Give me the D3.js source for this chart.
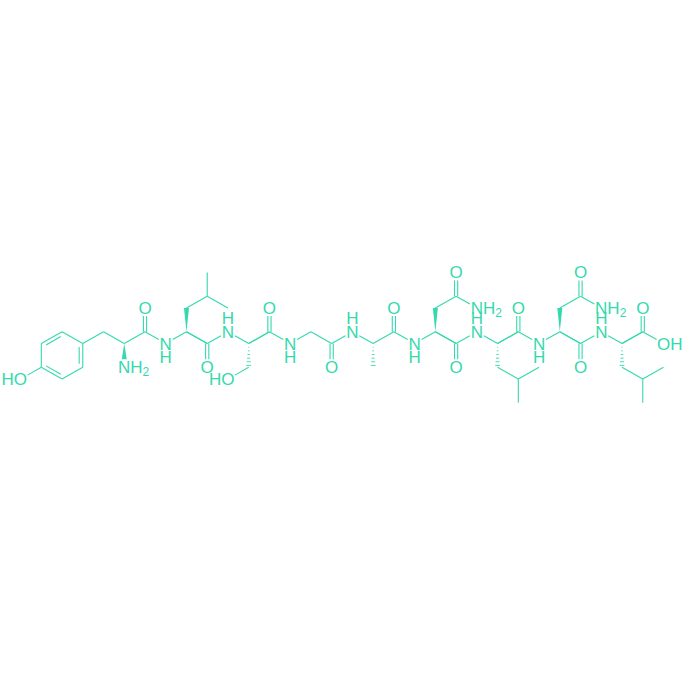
<!DOCTYPE html>
<html>
<head>
<meta charset="utf-8">
<script src="https://cdn.jsdelivr.net/npm/d3@7"></script>
<style>
html,body{margin:0;padding:0;background:#fff;}
svg{display:block;}
text{font-family:"Liberation Sans",sans-serif;font-size:17px;fill:#35d9ad;}
</style>
</head>
<body>
<svg class="svg" width="684" height="685"></svg>
<script>
// atoms on the skeletal lattice: column, row (in bond lengths), label
var atomCol=[0,1,2,2,1,0,-1,3,4,4,5,5,6,7,7,8,8,9,8,8,9,10,10,9,11,11,12,13,14,14,15,16,16,17,17,18,19,19,20,20,21,20,20,21,22,22,23,24,23,23,23,24,25,25,26,26,27,26,26,27,28,28,29,30,29,29,29,30];
var atomRow=[.5,0,.5,1.5,2,1.5,2,0,.5,1.5,0,-1,.5,0,-1,-1.5,-2.5,-1,.5,1.5,0,.5,1.5,2,0,-1,.5,0,.5,1.5,0,.5,1.5,0,-1,.5,0,-1,-1.5,-2.5,-1,.5,1.5,0,.5,1.5,2,1.5,3,0,-1,.5,0,-1,-1.5,-2.5,-1,.5,1.5,0,.5,1.5,2,1.5,3,0,-1,.5];
var atomLabel={6:"HO",9:"NH2",11:"O",12:"N",19:"O",20:"N",23:"HO",25:"O",26:"N",29:"O",30:"N",34:"O",35:"N",39:"O",40:"NH2",42:"O",43:"N",50:"O",51:"N",55:"O",56:"NH2",58:"O",59:"N",66:"O",67:"OH"};
var hBelow=[12,26,35,51];
var hAbove=[20,30,43,59];

// bonds: from atom, to atom, kind (1 single, 2 double, r ring double, w wedge, h hash)
var bondFrom=[0,1,2,3,4,5,5,2,7,8,8,10,10,12,13,13,14,15,15,13,18,18,20,21,21,22,21,24,24,26,27,28,28,30,31,31,33,33,35,36,36,37,38,38,36,41,41,43,44,44,45,46,46,44,49,49,51,52,52,53,54,54,52,57,57,59,60,60,61,62,62,60,65,65];
var bondTo=[1,2,3,4,5,0,6,7,8,9,10,11,12,13,14,18,15,16,17,18,19,20,21,22,24,23,24,25,26,27,28,29,30,31,32,33,34,35,36,37,41,38,39,40,41,42,43,44,45,49,46,47,48,49,50,51,52,53,57,54,55,56,57,58,59,60,61,65,62,63,64,65,66,67];
var bondKind=["r",1,"r",1,"r",1,1,1,1,"w",1,2,1,1,"w",1,1,1,1,1,2,1,1,"h",1,1,1,2,1,1,1,2,1,1,"h",1,2,1,1,"w",1,1,2,1,1,2,1,1,"h",1,1,1,1,1,2,1,1,"w",1,1,2,1,1,2,1,1,"h",1,1,1,1,1,2,1];

var svg=d3.select(".svg");
var ink="#35d9ad";
var x=d3.scaleLinear().domain([0,30]).range([41.3,663.5]);
var y=d3.scaleLinear().domain([0,1]).range([331.7,355.4]);
var ringCentre=[x(1),y(1)];

var bonds=bondFrom.map(function(a,i){ return {a:a,b:bondTo[i],kind:bondKind[i]}; });
var gBond=svg.append("g").attr("stroke",ink).attr("stroke-width",1.1).attr("fill","none");

function trimmed(d){
    var x1=x(atomCol[d.a]),y1=y(atomRow[d.a]),x2=x(atomCol[d.b]),y2=y(atomRow[d.b]);
    var dx=x2-x1,dy=y2-y1,len=Math.sqrt(dx*dx+dy*dy);
    var ux=dx/len,uy=dy/len;
    var t1=atomLabel[d.a]?8:0,t2=atomLabel[d.b]?8:0;
    return {x1:x1+ux*t1,y1:y1+uy*t1,x2:x2-ux*t2,y2:y2-uy*t2,ux:ux,uy:uy};
}

bonds.forEach(function(d){
    var p=trimmed(d);
    if(d.kind==1){
        gBond.append("line").attr("x1",p.x1).attr("y1",p.y1).attr("x2",p.x2).attr("y2",p.y2);
    }else if(d.kind==2){
        [-1.6,1.6].forEach(function(o){
            gBond.append("line").attr("x1",p.x1-p.uy*o).attr("y1",p.y1+p.ux*o).attr("x2",p.x2-p.uy*o).attr("y2",p.y2+p.ux*o);
        });
    }else if(d.kind=="r"){
        gBond.append("line").attr("x1",p.x1).attr("y1",p.y1).attr("x2",p.x2).attr("y2",p.y2);
        // inner line of the ring, pulled towards the centre
        var mx=(p.x1+p.x2)/2,my=(p.y1+p.y2)/2;
        var s=(ringCentre[0]-mx)*(-p.uy)+(ringCentre[1]-my)*p.ux>0?3.6:-3.6;
        gBond.append("line")
            .attr("x1",p.x1-p.uy*s+p.ux*3.5).attr("y1",p.y1+p.ux*s+p.uy*3.5)
            .attr("x2",p.x2-p.uy*s-p.ux*3.5).attr("y2",p.y2+p.ux*s-p.uy*3.5);
    }else if(d.kind=="w"){
        gBond.append("path").attr("fill",ink).attr("stroke","none")
            .attr("d","M"+p.x1+","+p.y1+"L"+(p.x2-p.uy*2.5)+","+(p.y2+p.ux*2.5)+"L"+(p.x2+p.uy*2.5)+","+(p.y2-p.ux*2.5)+"Z");
    }else if(d.kind=="h"){
        d3.range(1,7).forEach(function(i){
            var f=i/6.5,w=2.6*f;
            var cx=p.x1+(p.x2-p.x1)*f,cy=p.y1+(p.y2-p.y1)*f;
            gBond.append("line").attr("stroke-width",0.9)
                .attr("x1",cx-p.uy*w).attr("y1",cy+p.ux*w).attr("x2",cx+p.uy*w).attr("y2",cy-p.ux*w);
        });
    }
});

// heteroatom labels, centred on the letter that sits on the atom
var gText=svg.append("g");
Object.keys(atomLabel).forEach(function(k){
    var s=atomLabel[k],px=x(atomCol[k]),py=y(atomRow[k])+6;
    if(s=="N"||s=="O"){
        gText.append("text").attr("x",px).attr("y",py).attr("text-anchor","middle").text(s);
    }else if(s=="OH"){
        gText.append("text").attr("x",px-6.5).attr("y",py).text(s);
    }else if(s=="HO"){
        gText.append("text").attr("x",px+6.5).attr("y",py).attr("text-anchor","end").text(s);
    }else{
        var t=gText.append("text").attr("x",px-6.2).attr("y",py).text("NH");
        t.append("tspan").attr("dy",3).style("font-size","12px").text("2");
    }
});
hBelow.forEach(function(k){
    gText.append("text").attr("x",x(atomCol[k])).attr("y",y(atomRow[k])+19.5).attr("text-anchor","middle").text("H");
});
hAbove.forEach(function(k){
    gText.append("text").attr("x",x(atomCol[k])).attr("y",y(atomRow[k])-7.5).attr("text-anchor","middle").text("H");
});
</script>
</body>
</html>
